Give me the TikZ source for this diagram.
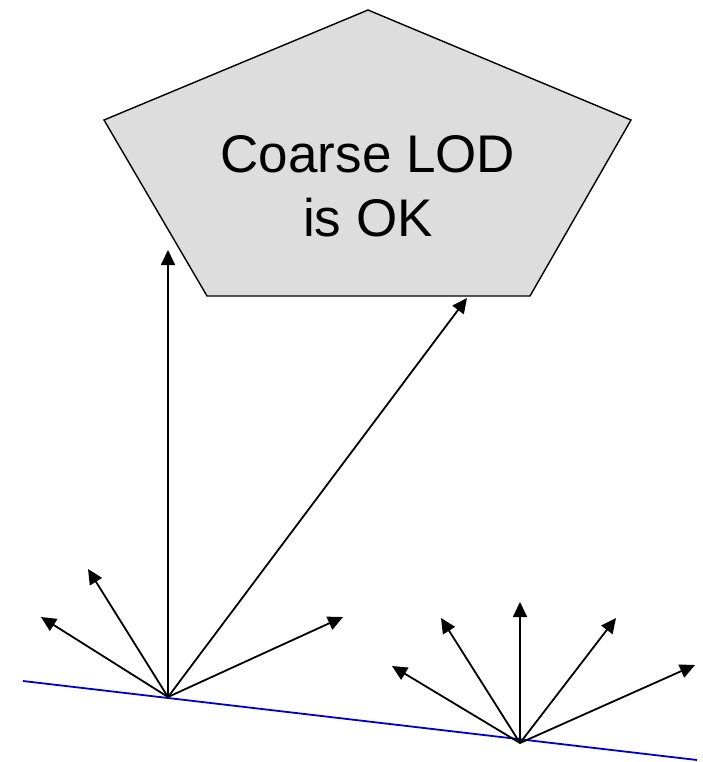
\documentclass[tikz,border=0pt]{standalone}
\usepackage{fontspec}
\setmainfont{Liberation Sans}
\usetikzlibrary{arrows.meta}
\definecolor{panelgray}{RGB}{221,221,221}
\definecolor{groundblue}{RGB}{0,0,204}
\begin{document}
\begin{tikzpicture}[x=1pt,y=-1pt,
  ray/.style={line width=1.8pt,-{Triangle[length=15pt,width=14pt]}},
  ground/.style={line width=1.8pt,draw=groundblue},
  lodshape/.style={line width=1.4pt,fill=panelgray,draw=black,line join=miter}]
\useasboundingbox (0,0) rectangle (703,762);

% pentagon region
\coordinate (pt) at (368,10);
\coordinate (pr) at (631,120);
\coordinate (pbr) at (530,296);
\coordinate (pbl) at (207,296);
\coordinate (pl) at (104,120);
\draw[lodshape] (pt) -- (pr) -- (pbr) -- (pbl) -- (pl) -- cycle;
\node[font=\fontsize{53}{64}\selectfont,align=center,inner sep=0pt] (label) at (368,186) {Coarse LOD\\is OK};

% surface line
\coordinate (g1) at (23,681);
\coordinate (g2) at (697,760);
\draw[ground] (g1) -- (g2);

% left fan of rays
\coordinate (o1) at (168,697);
\coordinate (a1) at (41,617);
\coordinate (a2) at (88,569);
\coordinate (a3) at (168,250);
\coordinate (a4) at (467,298);
\coordinate (a5) at (343,617);
\foreach \t in {a1,a2,a3,a4,a5} \draw[ray] (o1) -- (\t);

% right fan of rays
\coordinate (o2) at (520,743);
\coordinate (b1) at (392,666);
\coordinate (b2) at (441,618);
\coordinate (b3) at (520,602);
\coordinate (b4) at (616,618);
\coordinate (b5) at (695,665);
\foreach \t in {b1,b2,b3,b4,b5} \draw[ray] (o2) -- (\t);
\end{tikzpicture}
\end{document}
